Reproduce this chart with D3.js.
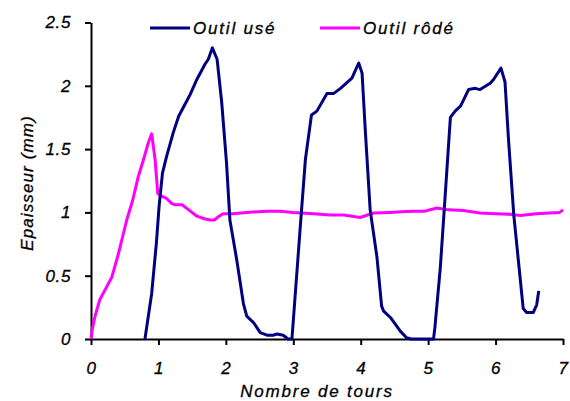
<!DOCTYPE html>
<html>
<head>
<meta charset="utf-8">
<script src="https://cdn.jsdelivr.net/npm/d3@7"></script>
<style>
  body { margin: 0; background: #fff; }
  svg { font-family: "Liberation Sans", Arial, sans-serif; }
  .axis path, .axis line { stroke: #000; stroke-width: 2px; }
  .axis text { font-size: 17px; font-style: italic; fill: #000; letter-spacing: 0.6px; stroke: #000; stroke-width: 0.3px; }
  .title { font-size: 17px; font-style: italic; fill: #000; stroke: #000; stroke-width: 0.3px; }
</style>
</head>
<body>
<div id="chart"></div>
<script>
// Outil usé (navy curve)
var usedX = [0.80, 0.85, 0.90, 0.97, 1.01, 1.06, 1.12, 1.22, 1.30, 1.40, 1.47, 1.57, 1.69, 1.74, 1.80, 1.87, 1.94, 2.01, 2.06, 2.16, 2.26, 2.31, 2.41, 2.51, 2.61, 2.70, 2.76, 2.85, 2.90, 2.92, 2.98,
             3.10, 3.18, 3.27, 3.35, 3.50, 3.60, 3.70, 3.87, 3.97, 4.02, 4.07, 4.14, 4.24, 4.31, 4.34, 4.44, 4.59, 4.68, 4.75, 5.08,
             5.10, 5.18, 5.25, 5.33, 5.40, 5.48, 5.60, 5.70, 5.77, 5.92, 5.97, 6.08, 6.14, 6.19, 6.27, 6.34, 6.41, 6.46, 6.56, 6.61, 6.64];
var usedY = [0.00, 0.18, 0.36, 0.76, 1.05, 1.31, 1.44, 1.63, 1.76, 1.86, 1.93, 2.05, 2.17, 2.21, 2.30, 2.21, 1.86, 1.39, 0.94, 0.63, 0.28, 0.18, 0.13, 0.05, 0.03, 0.03, 0.04, 0.03, 0.01, 0.00, 0.00,
             0.86, 1.42, 1.77, 1.80, 1.94, 1.94, 1.98, 2.06, 2.18, 2.10, 1.63, 1.02, 0.65, 0.26, 0.22, 0.17, 0.06, 0.01, 0.00, 0.00,
             0.09, 0.56, 1.11, 1.75, 1.80, 1.84, 1.97, 1.98, 1.97, 2.02, 2.05, 2.14, 2.03, 1.59, 0.98, 0.61, 0.24, 0.21, 0.21, 0.27, 0.38];

// Outil rôdé (magenta curve)
var runX = [0.00, 0.02, 0.06, 0.13, 0.22, 0.31, 0.41, 0.53, 0.62, 0.70, 0.78, 0.85, 0.90, 0.95, 0.99, 1.04, 1.12, 1.20, 1.25, 1.35, 1.45, 1.57, 1.68, 1.77, 1.83, 1.90, 1.96,
            2.10, 2.31, 2.61, 2.80, 3.00, 3.30, 3.55, 3.75, 3.99, 4.19, 4.44, 4.60, 4.78, 4.95, 5.13, 5.30, 5.52, 5.77, 6.00, 6.20, 6.37, 6.60, 6.80, 6.95, 7.00];
var runY = [0.00, 0.08, 0.18, 0.31, 0.40, 0.49, 0.68, 0.94, 1.10, 1.28, 1.42, 1.55, 1.62, 1.42, 1.15, 1.13, 1.11, 1.07, 1.06, 1.06, 1.02, 0.97, 0.95, 0.94, 0.94, 0.97, 0.99,
            0.99, 1.00, 1.01, 1.01, 1.00, 0.99, 0.98, 0.98, 0.96, 0.995, 1.00, 1.005, 1.01, 1.01, 1.035, 1.02, 1.015, 0.995, 0.99, 0.985, 0.975, 0.99, 0.995, 1.00, 1.02];

var xTicks = [0, 1, 2, 3, 4, 5, 6, 7];
var yTicks = [0, 0.5, 1, 1.5, 2, 2.5];
var seriesNames = ["Outil usé", "Outil rôdé"];
var seriesColors = ["#000080", "#ff00ff"];

var width = 570, height = 401;
var margin = {top: 22.5, right: 7, bottom: 62, left: 91};

var svg = d3.select("#chart").append("svg")
    .attr("width", width)
    .attr("height", height);

var x = d3.scaleLinear()
    .domain([0, 7])
    .range([margin.left, width - margin.right]);

var y = d3.scaleLinear()
    .domain([0, 2.5])
    .range([height - margin.bottom, margin.top]);

////////// axes //////////

var xAxis = svg.append("g")
    .attr("class", "axis")
    .attr("transform", "translate(0," + y(0) + ")")
    .call(d3.axisBottom(x).tickValues(xTicks).tickSize(6).tickSizeOuter(0).tickPadding(17).tickFormat(d3.format("")));

var yAxis = svg.append("g")
    .attr("class", "axis")
    .attr("transform", "translate(" + x(0) + ",0)")
    .call(d3.axisLeft(y).tickValues(yTicks).tickSize(6).tickSizeOuter(0).tickPadding(14).tickFormat(d3.format("")));

svg.append("text")
    .attr("class", "title")
    .attr("x", 317)
    .attr("y", 397)
    .attr("text-anchor", "middle")
    .style("letter-spacing", "1.8px")
    .text("Nombre de tours");

svg.append("text")
    .attr("class", "title")
    .attr("transform", "translate(33,183) rotate(-90)")
    .attr("text-anchor", "middle")
    .style("letter-spacing", "1.1px")
    .text("Epaisseur (mm)");

////////// lines //////////

var line = d3.line()
    .x(function(d) { return x(d[0]); })
    .y(function(d) { return y(d[1]); });

var series = [d3.zip(usedX, usedY), d3.zip(runX, runY)];

// draw magenta first so navy is on top
svg.append("path")
    .datum(series[1])
    .attr("fill", "none")
    .attr("stroke", seriesColors[1])
    .attr("stroke-width", 3)
    .attr("stroke-linejoin", "round")
    .attr("d", line);

svg.append("path")
    .datum(series[0])
    .attr("fill", "none")
    .attr("stroke", seriesColors[0])
    .attr("stroke-width", 3)
    .attr("stroke-linejoin", "round")
    .attr("d", line);

////////// legend //////////

var legendX = [150, 320];
var legend = svg.selectAll(".legend")
    .data(seriesNames)
    .enter()
    .append("g")
    .attr("class", "legend")
    .attr("transform", function(d, i) { return "translate(" + legendX[i] + ",28)"; });

legend.append("line")
    .attr("x1", 0)
    .attr("x2", 40)
    .attr("stroke", function(d, i) { return seriesColors[i]; })
    .attr("stroke-width", 3);

legend.append("text")
    .attr("class", "title")
    .attr("x", 43)
    .attr("y", 6)
    .style("letter-spacing", "1.8px")
    .text(function(d) { return d; });
</script>
</body>
</html>
